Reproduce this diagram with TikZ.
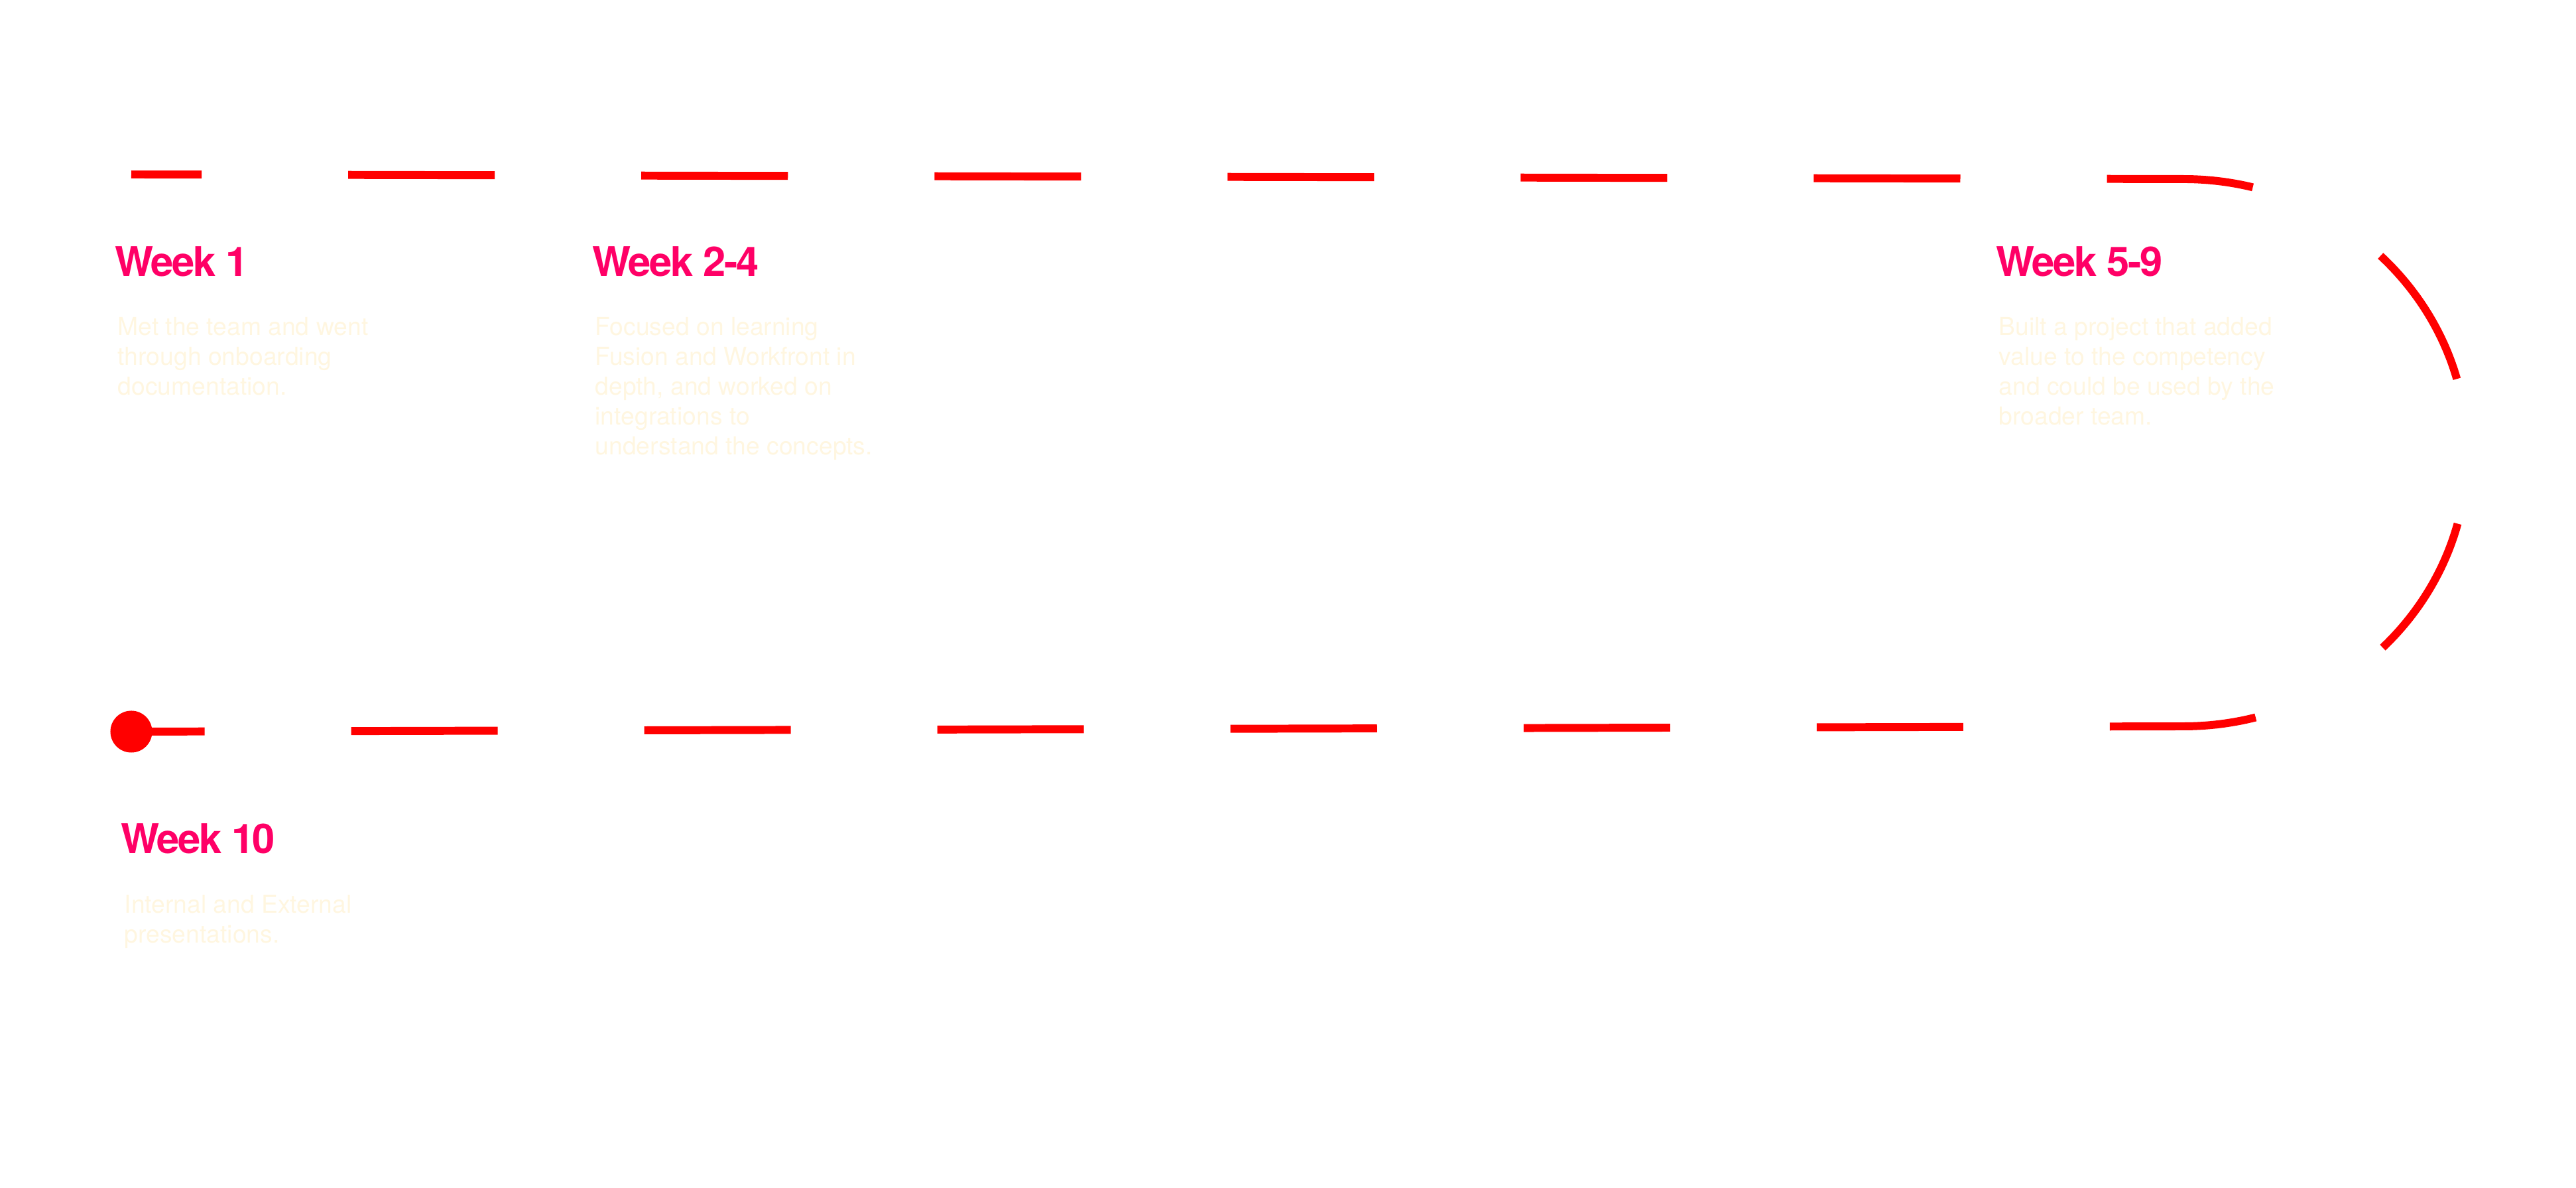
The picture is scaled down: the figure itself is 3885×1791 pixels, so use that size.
\documentclass[tikz,border=0pt]{standalone}
\usepackage{fontspec}
\setmainfont{TeX Gyre Heros}
\newfontfamily\headfont[LetterSpace=-4]{TeX Gyre Heros}
\usetikzlibrary{positioning}
\definecolor{trackred}{RGB}{255,0,0}
\definecolor{weekpink}{RGB}{255,0,102}
\definecolor{notecream}{RGB}{255,246,224}

\begin{document}
\begin{tikzpicture}[x=0.01cm, y=0.01cm,
  track/.style={draw=trackred, line width=3.4pt,
    dash pattern=on 2.209cm off 2.209cm, dash phase=1.1045cm},
  dot/.style={circle, fill=trackred, minimum size=0.63cm, inner sep=0pt},
  weekhead/.style={anchor=base west, inner sep=0pt, text=weekpink,
    font=\headfont\bfseries\fontsize{17.5}{21}\selectfont},
  weektext/.style={anchor=north west, inner sep=0pt, align=left, text=notecream,
    font=\fontsize{10.6}{12.8}\selectfont}]
  \useasboundingbox (0,0) rectangle (3885,1791);
  % dashed loop
  \coordinate (botR) at (3293,696);
  \coordinate (topL) at (198,1528);
  \node[dot] (start) at (198,688) {};
  \draw[track] (start.center) -- (botR)
    arc[start angle=-90, end angle=90, x radius=428, y radius=412.5] -- (topL);
  % week 1
  \node[weekhead] (w1) at (173,1374) {Week 1};
  \node[weektext] (w1txt) at (177,1313) {Met the team and went\\through onboarding\\documentation.};
  % week 2-4
  \node[weekhead] (w2) at (893,1374) {Week 2-4};
  \node[weektext] (w2txt) at (897,1313) {Focused on learning\\Fusion and Workfront in\\depth, and worked on\\integrations to\\understand the concepts.};
  % week 5-9
  \node[weekhead] (w5) at (3010,1374) {Week 5-9};
  \node[weektext] (w5txt) at (3014,1313) {Built a project that added\\value to the competency\\and could be used by the\\broader team.};
  % week 10
  \node[weekhead] (w10) at (182,504) {Week 10};
  \node[weektext] (w10txt) at (187,442) {Internal and External\\presentations.};
\end{tikzpicture}
\end{document}
